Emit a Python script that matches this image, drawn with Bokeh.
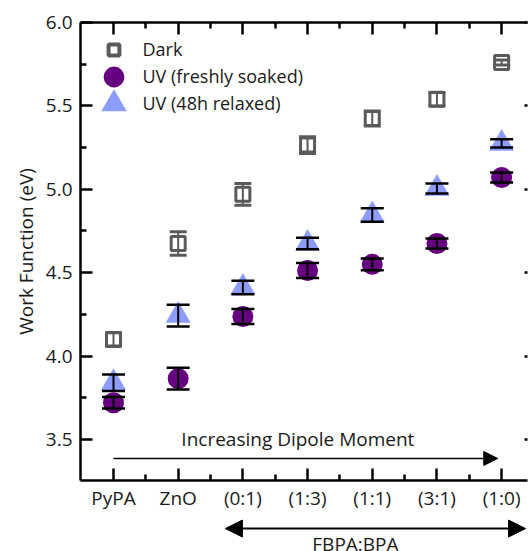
import math
from bokeh.plotting import figure
from bokeh.layouts import column
from bokeh.models import (Range1d, LinearAxis, FixedTicker, Whisker, ColumnDataSource,
                          Legend, LegendItem, Arrow, NormalHead, Label, TeeHead,
                          PrintfTickFormatter)
from bokeh.embed import file_html
from bokeh.resources import INLINE

# ---------------- data ----------------
categories = ["PyPA", "ZnO", "(0:1)", "(1:3)", "(1:1)", "(3:1)", "(1:0)"]
dark = [4.10, 4.675, 4.97, 5.265, 5.425, 5.54, 5.76]
dark_err = [0.04, 0.07, 0.065, 0.05, 0.045, 0.04, 0.015]
uv_fresh = [3.72, 3.865, 4.237, 4.513, 4.55, 4.675, 5.07]
uv_fresh_err = [0.035, 0.065, 0.045, 0.045, 0.035, 0.03, 0.03]
uv_relaxed = [3.84, 4.243, 4.411, 4.675, 4.846, 5.005, 5.275]
uv_relaxed_err = [0.05, 0.065, 0.04, 0.035, 0.04, 0.03, 0.025]
y_ticks = [3.5, 4.0, 4.5, 5.0, 5.5, 6.0]
y_minor_ticks = [3.75, 4.25, 4.75, 5.25, 5.75]
series_names = ["Dark", "UV (freshly soaked)", "UV (48h relaxed)"]
arrow_text = "Increasing Dipole Moment"
ratio_text = "FBPA:BPA"

xs = list(range(len(categories)))

FONT = "Open Sans"
TXT = "#1a1a1a"
GRAY = "#5a5a5a"
PURPLE = "#660080"
BLUE = "#8c9cff"

src = ColumnDataSource(dict(
    x=xs,
    dark=dark, dark_lo=[v - e for v, e in zip(dark, dark_err)], dark_hi=[v + e for v, e in zip(dark, dark_err)],
    fr=uv_fresh, fr_lo=[v - e for v, e in zip(uv_fresh, uv_fresh_err)], fr_hi=[v + e for v, e in zip(uv_fresh, uv_fresh_err)],
    rl=uv_relaxed, rl_lo=[v - e for v, e in zip(uv_relaxed, uv_relaxed_err)], rl_hi=[v + e for v, e in zip(uv_relaxed, uv_relaxed_err)],
))

x_range = Range1d(-0.51, 6.40)

p = figure(width=529, height=516, output_backend="svg", toolbar_location=None,
           x_range=x_range, y_range=Range1d(3.254, 6.0),
           min_border_left=80, min_border_right=2, min_border_top=22, min_border_bottom=36,
           x_axis_location=None, y_axis_location=None)
p.outline_line_color = None
p.xgrid.grid_line_color = None
p.ygrid.grid_line_color = None
p.background_fill_color = "white"
p.border_fill_color = "white"

xt = FixedTicker(ticks=xs, minor_ticks=[i + 0.5 for i in range(len(xs))])
yt = FixedTicker(ticks=y_ticks, minor_ticks=y_minor_ticks)


def style(ax, labels=True):
    ax.axis_line_width = 2.5
    ax.axis_line_color = "black"
    ax.major_tick_line_width = 2.5
    ax.minor_tick_line_width = 2.5
    ax.major_tick_line_color = "black"
    ax.minor_tick_line_color = "black"
    ax.major_tick_out = 0
    ax.minor_tick_out = 0
    ax.major_tick_in = 12
    ax.minor_tick_in = 6
    if labels:
        ax.major_label_text_font = FONT
        ax.major_label_text_font_size = "19px"
        ax.major_label_text_color = TXT
    else:
        ax.major_label_text_font_size = "10px"
        ax.major_label_standoff = 0


bottom = LinearAxis(ticker=xt, major_label_overrides={i: c for i, c in enumerate(categories)})
style(bottom)
bottom.major_label_standoff = 4
p.add_layout(bottom, "below")

top = LinearAxis(ticker=xt, major_label_overrides={i: "" for i in xs})
style(top, labels=False)
p.add_layout(top, "above")

left = LinearAxis(ticker=yt, formatter=PrintfTickFormatter(format="%.1f"),
                  axis_label="Work Function (eV)")
style(left)
left.major_label_standoff = 8
left.axis_label_text_font = FONT
left.axis_label_text_font_size = "19px"
left.axis_label_text_font_style = "normal"
left.axis_label_text_color = TXT
left.axis_label_standoff = 4
p.add_layout(left, "left")

right = LinearAxis(ticker=FixedTicker(ticks=y_ticks), major_label_overrides={t: "" for t in y_ticks})
style(right, labels=False)
right.axis_line_color = None
right.major_tick_in = 3
right.minor_tick_in = 0
p.add_layout(right, "right")

# ---------------- marks ----------------
p.scatter("x", "dark", source=src, marker="square", size=14, fill_color=None,
          line_color=GRAY, line_width=3)
p.scatter("x", "rl", source=src, marker="triangle", size=25, fill_color=BLUE, line_color=None)
p.scatter("x", "fr", source=src, marker="circle", size=21, fill_color=PURPLE, line_color=None)

p.add_layout(Whisker(source=src, base="x", lower="dark_lo", upper="dark_hi", dimension="height",
                     line_color=GRAY, line_width=2, level="annotation",
                     lower_head=TeeHead(size=17, line_color=GRAY, line_width=3),
                     upper_head=TeeHead(size=17, line_color=GRAY, line_width=3)))
for lo, hi in (("rl_lo", "rl_hi"), ("fr_lo", "fr_hi")):
    p.add_layout(Whisker(source=src, base="x", lower=lo, upper=hi, dimension="height",
                         line_color="black", line_width=2, level="annotation",
                         lower_head=TeeHead(size=23, line_color="black", line_width=2.5),
                         upper_head=TeeHead(size=23, line_color="black", line_width=2.5)))

# legend-only renderers (NaN data, drawn only in the legend)
nan_src = ColumnDataSource(dict(x=[math.nan], y=[math.nan]))
leg_dark = p.scatter("x", "y", source=nan_src, marker="square", fill_color=None,
                     line_color=GRAY, line_width=4)
leg_fr = p.scatter("x", "y", source=nan_src, marker="circle", fill_color=PURPLE,
                   line_color=PURPLE, line_width=10)
leg_rl = p.scatter("x", "y", source=nan_src, marker="triangle", fill_color=BLUE,
                   line_color=BLUE, line_width=8.5, line_join="miter")

legend = Legend(items=[LegendItem(label=series_names[0], renderers=[leg_dark]),
                       LegendItem(label=series_names[1], renderers=[leg_fr]),
                       LegendItem(label=series_names[2], renderers=[leg_rl])],
                location=(19.5, 363.5), glyph_width=27, glyph_height=27, label_height=27,
                label_standoff=16, spacing=0, padding=5, margin=0,
                border_line_color=None, background_fill_alpha=0,
                label_text_font=FONT, label_text_font_size="18px", label_text_color=TXT)
p.add_layout(legend)

# ---------------- arrows & labels ----------------
p.add_layout(Arrow(end=NormalHead(size=14, fill_color="black", line_color="black"),
                   x_start=0, y_start=3.386, x_end=5.94, y_end=3.386,
                   line_width=1.5, line_color="black"))
p.add_layout(Label(x=2.85, y=3.5, text=arrow_text, text_align="center", text_baseline="middle",
                   text_font=FONT, text_font_size="19px", text_color=TXT))

# strip below the axis, sharing the x scale, for the FBPA:BPA bracket
p2 = figure(width=529, height=35, output_backend="svg", toolbar_location=None,
            x_range=x_range, y_range=Range1d(2.8285, 3.0384),
            min_border_left=80, min_border_right=2, min_border_top=0, min_border_bottom=0,
            x_axis_location=None, y_axis_location=None)
p2.outline_line_color = None
p2.xgrid.grid_line_color = None
p2.ygrid.grid_line_color = None
p2.background_fill_color = "white"
p2.border_fill_color = "white"
p2.add_layout(Arrow(start=NormalHead(size=17, fill_color="black", line_color="black"),
                    end=NormalHead(size=17, fill_color="black", line_color="black"),
                    x_start=1.73, y_start=2.966, x_end=6.37, y_end=2.966,
                    line_width=2, line_color="black"))
p2.add_layout(Label(x=3.74, y=2.871, text=ratio_text, text_align="center", text_baseline="alphabetic",
                    text_font=FONT, text_font_size="19px", text_color=TXT))

layout = column(p, p2, spacing=0)
open("out.html", "w").write(file_html(layout, INLINE))
